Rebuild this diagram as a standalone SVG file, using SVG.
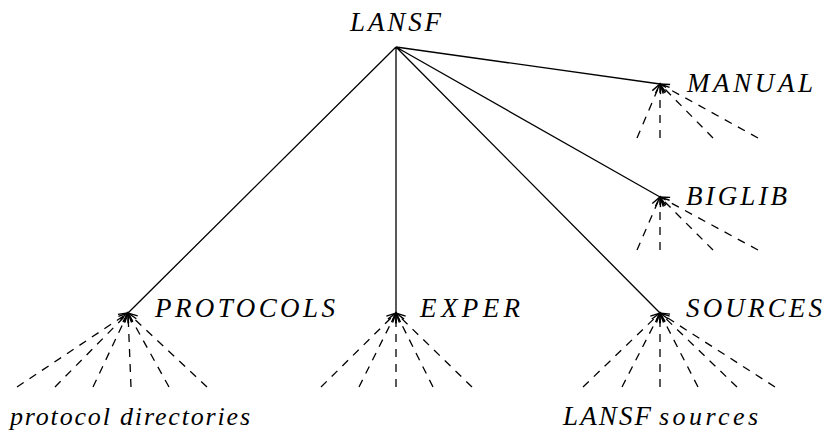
<svg xmlns="http://www.w3.org/2000/svg" width="829" height="443" viewBox="0 0 829 443">
<style>
.lbl{font-family:"Liberation Serif",serif;font-style:italic;font-size:27px;fill:#000}
.sm{font-size:26px}
.solid{stroke:#000;stroke-width:1.3;fill:none}
.dash{stroke:#000;stroke-width:1.3;fill:none;stroke-dasharray:8 7;marker-end:url(#ah)}
</style>
<defs>
<marker id="ah" markerUnits="userSpaceOnUse" markerWidth="14" markerHeight="14" refX="0" refY="0" viewBox="-8 -5 10 10" orient="auto">
<path d="M-6.5,-3.2 L0,0 L-6.5,3.2" stroke="#000" stroke-width="1" fill="none"/>
</marker>
</defs>
<rect width="829" height="443" fill="#fff"/>
<g id="connectors">
<path class="solid" d="M396,47 L128,313 M396,47 L396,313 M396,47 L660,313 M396,47 L660,197 M396,47 L660,84"/>
<path class="dash" d="M17,387 L128,313"/>
<path class="dash" d="M55,387 L128,313"/>
<path class="dash" d="M93,387 L128,313"/>
<path class="dash" d="M131,387 L128,313"/>
<path class="dash" d="M169,387 L128,313"/>
<path class="dash" d="M207,387 L128,313"/>
<path class="dash" d="M321,387 L396,313"/>
<path class="dash" d="M359,387 L396,313"/>
<path class="dash" d="M396,387 L396,313"/>
<path class="dash" d="M433,387 L396,313"/>
<path class="dash" d="M472,387 L396,313"/>
<path class="dash" d="M583,387 L660,313"/>
<path class="dash" d="M622,387 L660,313"/>
<path class="dash" d="M660,387 L660,313"/>
<path class="dash" d="M698,387 L660,313"/>
<path class="dash" d="M737,387 L660,313"/>
<path class="dash" d="M775,387 L660,313"/>
<path class="dash" d="M637,138 L660,84"/>
<path class="dash" d="M660,138 L660,84"/>
<path class="dash" d="M713,138 L660,84"/>
<path class="dash" d="M758,138 L660,84"/>
<path class="dash" d="M637,250 L660,197"/>
<path class="dash" d="M660,250 L660,197"/>
<path class="dash" d="M713,250 L660,197"/>
<path class="dash" d="M758,250 L660,197"/>
</g>
<g id="LANSF"><text class="lbl" x="350" y="31" textLength="91" lengthAdjust="spacing">LANSF</text></g>
<g id="MANUAL"><text class="lbl" x="687" y="92" textLength="126" lengthAdjust="spacing">MANUAL</text></g>
<g id="BIGLIB"><text class="lbl" x="686" y="205" textLength="101" lengthAdjust="spacing">BIGLIB</text></g>
<g id="PROTOCOLS"><text class="lbl" x="155" y="317" textLength="180" lengthAdjust="spacing">PROTOCOLS</text></g>
<g id="EXPER"><text class="lbl" x="420" y="317" textLength="100" lengthAdjust="spacing">EXPER</text></g>
<g id="SOURCES"><text class="lbl" x="686" y="317" textLength="136" lengthAdjust="spacing">SOURCES</text></g>
<g id="protocol_directories"><text class="lbl sm" x="10" y="425" textLength="240" lengthAdjust="spacing">protocol directories</text></g>
<g id="LANSF_sources"><text class="lbl" x="563" y="425" textLength="88" lengthAdjust="spacing">LANSF</text><text class="lbl sm" x="659" y="425" textLength="99" lengthAdjust="spacing">sources</text></g>
</svg>
